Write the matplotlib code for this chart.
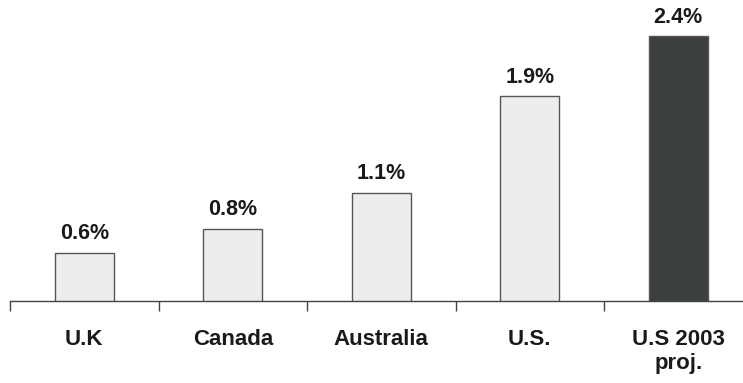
import matplotlib.pyplot as plt
import numpy as np

plt.rcParams['font.family'] = ['Liberation Sans', 'DejaVu Sans']

countries = ['U.K', 'Canada', 'Australia', 'U.S.', 'U.S 2003\nproj.']
growth = [0.6, 0.8, 1.1, 1.9, 2.4]
labels = ['0.6%', '0.8%', '1.1%', '1.9%', '2.4%']
colors = ['#ededed', '#ededed', '#ededed', '#ededed', '#3b403d']

fig = plt.figure(figsize=(7.43, 3.83), dpi=100)
# axes spans a bit past the right edge, like the original
ax = fig.add_axes([10 / 743, 82 / 383, 742.5 / 743, 289 / 383])

x = np.arange(len(countries))
bars = ax.bar(x, growth, width=0.40, color=colors, edgecolor='#555555', linewidth=1.0)

for xi, v, lab in zip(x, growth, labels):
    ax.text(xi, v + 0.07, lab, ha='center', va='bottom', fontsize=15.5, fontweight='bold', color='#1a1a1a')

ax.set_xlim(-0.5, len(countries) - 0.5)
ax.set_ylim(0.2, 2.6)

ax.set_xticks(x)
ax.set_xticklabels(countries, fontsize=16, fontweight='bold', color='#1a1a1a', linespacing=1.2)
ax.tick_params(axis='x', which='major', length=0, pad=20)
ax.set_xticks(np.arange(-0.5, len(countries), 1.0), minor=True)
ax.tick_params(axis='x', which='minor', length=7, width=1.0, color='#444444', direction='out')
ax.set_yticks([])

for s in ['top', 'right', 'left']:
    ax.spines[s].set_visible(False)
ax.spines['bottom'].set_color('#444444')
ax.spines['bottom'].set_linewidth(1.0)

fig.savefig('out.png', dpi=100)
